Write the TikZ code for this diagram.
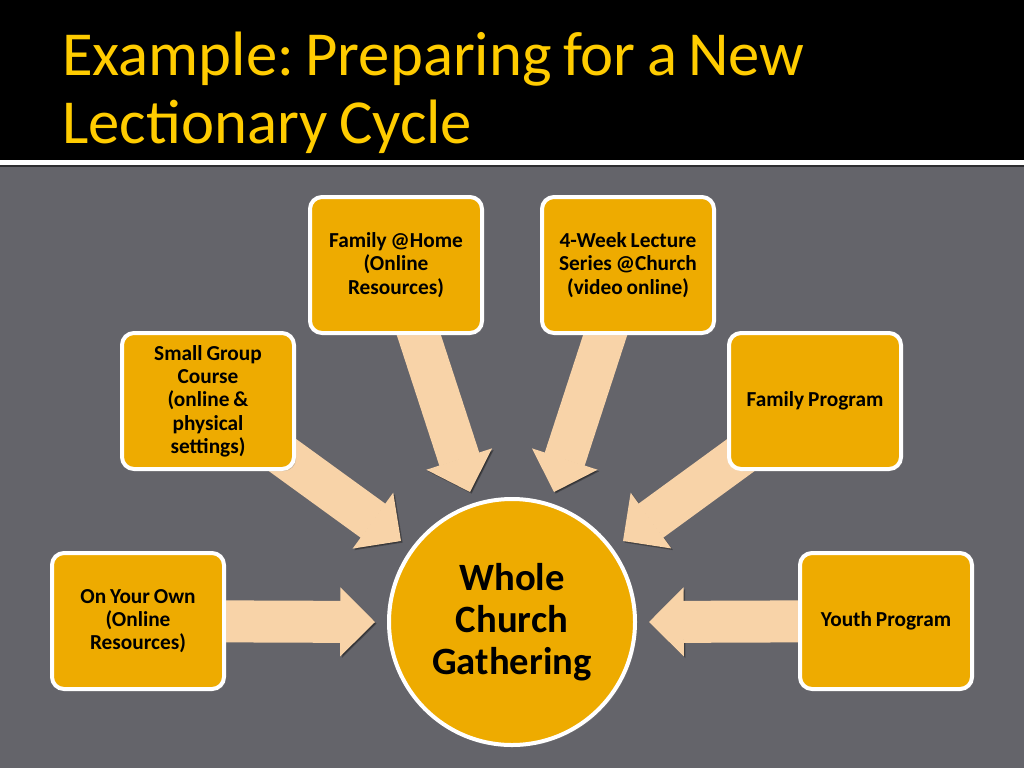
\documentclass[tikz,border=0pt]{standalone}
\usepackage{fontspec}
\setmainfont{Carlito}[WordSpace=0.8]
\frenchspacing
\usetikzlibrary{arrows.meta,shadows}
\definecolor{bgcol}{RGB}{100,100,106}
\definecolor{boxfill}{RGB}{238,171,0}
\definecolor{arrowfill}{RGB}{248,211,168}
\definecolor{titlecol}{RGB}{255,204,0}
\pgfdeclarelayer{bglayer}
\pgfdeclarelayer{arrlayer}
\pgfsetlayers{bglayer,arrlayer,main}
\tikzset{
  box/.style={rectangle, rounded corners=9pt, draw=white, line width=3pt, fill=boxfill,
    minimum width=129pt, minimum height=102pt, align=center,
    font=\fontsize{16}{17.5}\selectfont\bfseries, text=black,
    drop shadow={opacity=0.35, shadow xshift=1.5pt, shadow yshift=-1.5pt}},
  hub/.style={circle, draw=white, line width=3pt, fill=boxfill, minimum size=184.5pt,
    inner sep=0pt, align=center, font=\fontsize{29}{31.5}\selectfont\bfseries, text=black,
    drop shadow={opacity=0.35, shadow xshift=1.5pt, shadow yshift=-1.5pt}},
  blockarrow/.style={draw=arrowfill, line width=31.5pt,
    -{Triangle[length=26pt,width=51.5pt,line width=1.5pt]},
    preaction={draw=black, opacity=0.3, transform canvas={shift={(1.2pt,-1.2pt)}}}},
  titletext/.style={anchor=base west, inner sep=0pt, text=titlecol,
    font=\fontsize{47}{51}\selectfont}
}
\begin{document}
\begin{tikzpicture}[x=0.75pt,y=-0.75pt]
\useasboundingbox (0,0) rectangle (1024,768);
\begin{pgfonlayer}{bglayer}
  \fill[bgcol] (0,0) rectangle (1024,768);
  \fill[black] (0,0) rectangle (1024,160);
  \fill[white] (0,160) rectangle (1024,165);
  \fill[black!55!bgcol] (0,165) rectangle (1024,167);
\end{pgfonlayer}

\node[titletext] (title1) at (62,75) {Example: Preparing for a New};
\node[titletext] (title2) at (62,143) {Lectionary Cycle};

\node[box] (home) at (396,265) {Family @Home\\(Online\\Resources)};
\node[box] (week) at (628,265) {4-Week Lecture\\Series @Church\\(video online)};
\node[box] (small) at (208,401) {Small Group\\Course\\(online \&\\physical\\settings)};
\node[box] (famprog) at (815,401) {Family Program};
\node[box] (own) at (138,621) {On Your Own\\(Online\\Resources)};
\node[box] (youth) at (886,621) {Youth Program};
\node[hub] (hub) at (512,622) {Whole\\Church\\Gathering};

\coordinate (tOwn) at (375,622);
\coordinate (tYouth) at (649,622);
\coordinate (tSmall) at (401,541);
\coordinate (tFam) at (623,541);
\coordinate (tHome) at (470,492);
\coordinate (tWeek) at (554,492);

\begin{pgfonlayer}{arrlayer}
  \draw[blockarrow] (own.center) -- (tOwn);
  \draw[blockarrow] (youth.center) -- (tYouth);
  \draw[blockarrow] (small.center) -- (tSmall);
  \draw[blockarrow] (famprog.center) -- (tFam);
  \draw[blockarrow] (home.center) -- (tHome);
  \draw[blockarrow] (week.center) -- (tWeek);
\end{pgfonlayer}
\end{tikzpicture}
\end{document}
